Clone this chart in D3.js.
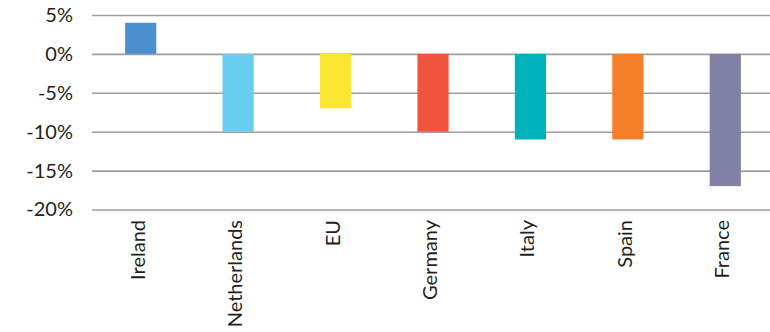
<!DOCTYPE html>
<html>
<head>
<meta charset="utf-8">
<script src="https://cdn.jsdelivr.net/npm/d3@7"></script>
<style>
  body { margin: 0; background: #fff; }
  text { font-family: Lato, "Open Sans", sans-serif; fill: #231f20; }
</style>
</head>
<body>
<svg id="chart" width="770" height="332"></svg>
<script>
var countries = ["Ireland", "Netherlands", "EU", "Germany", "Italy", "Spain", "France"];
var changes = [4, -10, -7, -10, -11, -11, -17];
var colors = ["#4a8fce", "#67cef2", "#fde533", "#ef553e", "#00b2ba", "#f57f28", "#8181a5"];
var yTicks = [5, 0, -5, -10, -15, -20];

var svg = d3.select("#chart");

var margin = {top: 15, right: -4, bottom: 123, left: 92},
    width = +svg.attr("width") - margin.left - margin.right,
    height = +svg.attr("height") - margin.top - margin.bottom;

var g = svg.append("g")
    .attr("transform", "translate(" + margin.left + "," + margin.top + ")");

var x = d3.scaleBand()
    .domain(countries)
    .range([0, width])
    .paddingInner(0.68)
    .paddingOuter(0.34);

var y = d3.scaleLinear()
    .domain([-20, 5])
    .range([height + 0.5, 0]);

// gridlines + tick labels
var yAxis = g.append("g")
    .attr("class", "axis axis--y")
    .call(d3.axisLeft(y).tickValues(yTicks).tickSize(-(770 - margin.left)).tickPadding(19)
      .tickFormat(function(d) { return d + "%"; }));

yAxis.select(".domain").remove();
yAxis.selectAll(".tick line")
    .attr("stroke", "#a09c9d")
    .attr("stroke-width", 1.6);
yAxis.selectAll(".tick text")
    .style("font-size", "20px")
    .attr("fill", "#231f20");

g.append("g").selectAll("rect")
    .data(countries)
  .enter().append("rect")
    .attr("x", function(d) { return x(d); })
    .attr("y", function(d, i) { return y(Math.max(0, changes[i])); })
    .attr("width", x.bandwidth())
    .attr("height", function(d, i) { return Math.abs(y(changes[i]) - y(0)); })
    .attr("fill", function(d, i) { return colors[i]; });

// category labels, rotated
g.append("g").selectAll("text")
    .data(countries)
  .enter().append("text")
    .attr("transform", function(d) {
      return "translate(" + (x(d) + x.bandwidth() / 2 - 3) + "," + (height + 11) + ") rotate(-90)";
    })
    .attr("text-anchor", "end")
    .attr("dy", "0.35em")
    .style("font-size", "20px")
    .text(function(d) { return d; });
</script>
</body>
</html>
